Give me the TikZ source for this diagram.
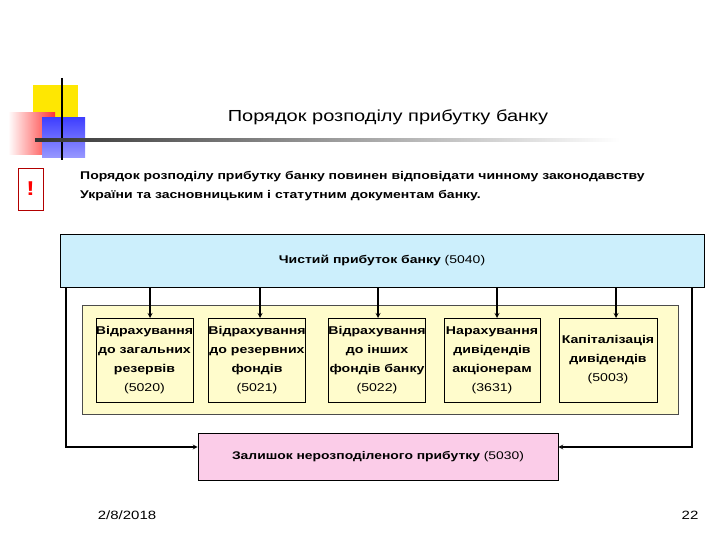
\documentclass[tikz,border=0pt]{standalone}
\usepackage{fontspec}
\setmainfont[FakeStretch=1.25]{Liberation Sans}
\begin{document}
\begin{tikzpicture}[x=1pt,y=-1pt,
  box/.style={draw=black,line width=0.6pt,font=\fontsize{11.3}{19}\selectfont\bfseries,align=center,inner sep=0pt},
  arr/.style={->,>=stealth,line width=1.2pt}]
\useasboundingbox (0,0) rectangle (720,540);
% decoration
\fill[yellow!90!orange] (33,85) rectangle (78,130);
\shade[left color=white,right color=red!80] (8,113) rectangle (55,155);
\shade[top color=blue!75,bottom color=blue!40] (42,118) rectangle (85,158);
\draw[line width=1.3pt] (62,78) -- (62,160);
\shade[left color=black!80,right color=white] (35,139) rectangle (620,142);
\node (title) at (388,117) {\fontsize{16}{18}\selectfont Порядок розподілу прибутку банку};
\node[draw=red!70!black,line width=0.7pt,minimum width=25,minimum height=42,inner sep=0] (excl) at (30.5,189) {\color{red}\fontsize{20}{20}\selectfont\bfseries !};
\node[anchor=north west,align=left,font=\fontsize{11.2}{19}\selectfont\bfseries,inner sep=0] (note) at (80,171) {Порядок розподілу прибутку банку повинен відповідати чинному законодавству\\України та засновницьким і статутним документам банку.};
% main
\node[box,fill=cyan!20,minimum width=644,minimum height=53,font=\fontsize{11.2}{14}\selectfont\bfseries] (top) at (382,260.5) {Чистий прибуток банку \mdseries(5040)};
\node[draw=black!70,fill=yellow!20,minimum width=596,minimum height=109,inner sep=0] (bg) at (380,359.5) {};
\node[box,fill=yellow!20,minimum width=97,minimum height=84] (b1) at (144.5,360) {Відрахування\\до загальних\\резервів\\\mdseries(5020)};
\node[box,fill=yellow!20,minimum width=94,minimum height=84] (b2) at (257,360) {Відрахування\\до резервних\\фондів\\\mdseries(5021)};
\node[box,fill=yellow!20,minimum width=96,minimum height=84] (b3) at (377,360) {Відрахування\\до інших\\фондів банку\\\mdseries(5022)};
\node[box,fill=yellow!20,minimum width=96,minimum height=84] (b4) at (492,360) {Нарахування\\дивідендів\\акціонерам\\\mdseries(3631)};
\node[box,fill=yellow!20,minimum width=98,minimum height=84] (b5) at (608,360) {Капіталізація\\дивідендів\\\mdseries(5003)};
\node[box,fill=magenta!20,minimum width=360,minimum height=47,font=\fontsize{11.1}{14}\selectfont\bfseries] (rest) at (378,456.5) {Залишок нерозподіленого прибутку \mdseries(5030)};
\foreach \b/\x in {b1/150,b2/260,b3/378,b4/497,b5/616}
  \draw[arr] (\x,287) -- (\x,318);
\coordinate (lt) at (66,287); \coordinate (lb) at (66,447);
\coordinate (rt) at (692,287); \coordinate (rb) at (692,447);
\draw[arr] (lt) -- (lb) -- (rest.west |- lb);
\draw[arr] (rt) -- (rb) -- (rest.east |- rb);
\node (date) at (127,515) {\fontsize{12}{14}\selectfont 2/8/2018};
\node (page) at (690,515) {\fontsize{12}{14}\selectfont 22};
\end{tikzpicture}
\end{document}
